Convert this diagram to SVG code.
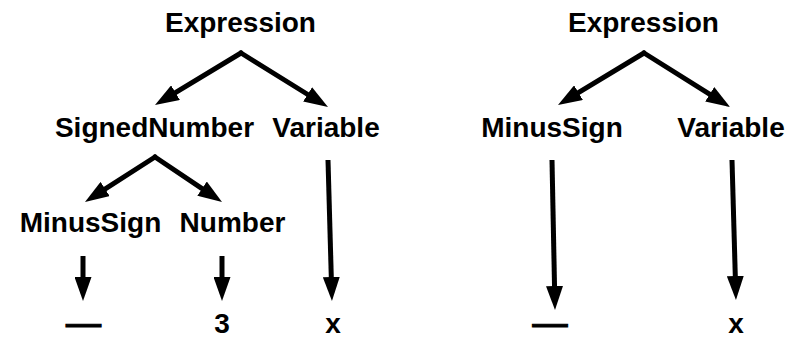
<svg xmlns="http://www.w3.org/2000/svg" width="787" height="339" viewBox="0 0 787 339">
<style>
text{font-family:"Liberation Sans",Arial,sans-serif;font-weight:bold;fill:#000;text-anchor:middle}
.n{font-size:28px}
.t{font-size:28px}
.d{stroke:#000;stroke-width:1}
.c line{stroke:#000;stroke-width:5;marker-end:url(#ah)}
</style>
<defs>
<marker id="ah" markerUnits="userSpaceOnUse" markerWidth="24" markerHeight="17" refX="4" refY="8.5" orient="auto" viewBox="0 0 24 17">
<path d="M0,0 L24,8.5 L0,17 z" fill="#000"/>
</marker>
</defs>
<rect width="787" height="339" fill="#fff"/>
<g id="connectors" class="c">
<line x1="241" y1="53" x2="172.1" y2="94.7" stroke-linecap="round"/>
<line x1="241" y1="53" x2="311" y2="96.5" stroke-linecap="round"/>
<line x1="155" y1="157" x2="101.8" y2="191.2" stroke-linecap="round"/>
<line x1="155" y1="157" x2="205.4" y2="190.8" stroke-linecap="round"/>
<line x1="83" y1="256" x2="83" y2="281"/>
<line x1="222" y1="256" x2="222" y2="281"/>
<line x1="328" y1="160" x2="331.4" y2="281"/>
<line x1="644" y1="53" x2="575.1" y2="94.7" stroke-linecap="round"/>
<line x1="644" y1="53" x2="713.1" y2="96.4" stroke-linecap="round"/>
<line x1="552" y1="160" x2="554.6" y2="290"/>
<line x1="732" y1="160" x2="735.4" y2="280"/>
</g>
<g id="expr1"><text class="n" x="240.5" y="32">Expression</text></g>
<g id="signednumber"><text class="n" x="154.5" y="137">SignedNumber</text></g>
<g id="variable1"><text class="n" x="326" y="137">Variable</text></g>
<g id="minussign1"><text class="n" x="90.5" y="232">MinusSign</text></g>
<g id="number"><text class="n" x="232.5" y="232">Number</text></g>
<g id="dash1"><text class="t d" x="83.5" y="333" textLength="35" lengthAdjust="spacingAndGlyphs">—</text></g>
<g id="three"><text class="t" x="222" y="333">3</text></g>
<g id="x1"><text class="t" x="333" y="333">x</text></g>
<g id="expr2"><text class="n" x="643.5" y="32">Expression</text></g>
<g id="minussign2"><text class="n" x="552" y="137">MinusSign</text></g>
<g id="variable2"><text class="n" x="731" y="137">Variable</text></g>
<g id="dash2"><text class="t d" x="550" y="333" textLength="35" lengthAdjust="spacingAndGlyphs">—</text></g>
<g id="x2"><text class="t" x="736" y="333">x</text></g>
</svg>
